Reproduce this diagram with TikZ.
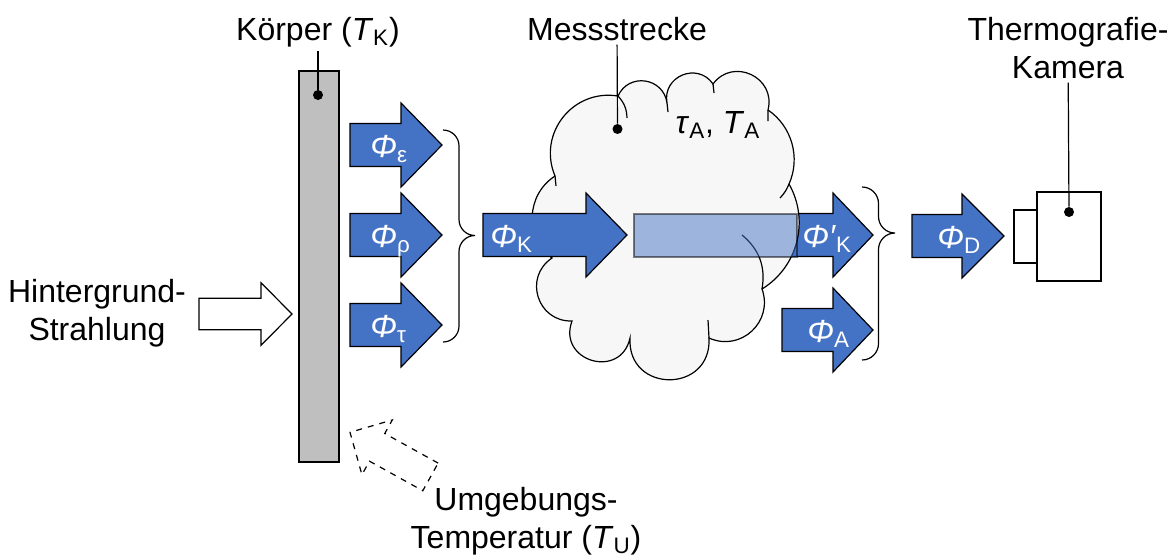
\documentclass[tikz,border=0pt]{standalone}
\usepackage{fontspec}
\setmainfont{Liberation Sans}

\definecolor{fluxblue}{HTML}{4472C4}
\definecolor{bodygray}{HTML}{BFBFBF}
\definecolor{cloudgray}{HTML}{F7F7F7}

\newcommand{\flux}[1]{\textit{Φ}\textsubscript{#1}}
% block arrow: [style]{tail x}{axis y}{head x}{tip x}{half shaft}{half head}
\newcommand{\blockarrow}[7][]{%
  \draw[#1] (#2,#3-#6) -- (#4,#3-#6) -- (#4,#3-#7) -- (#5,#3)
    -- (#4,#3+#7) -- (#4,#3+#6) -- (#2,#3+#6) -- cycle;}
% curly bracket: [style]{x}{top y}{tip y}{bottom y}{curl}
\newcommand{\curlybrace}[6][]{%
  \draw[#1] (#2,#3) to[out=0,in=90] (#2+#6,#3+#6) -- (#2+#6,#4-#6)
    to[out=270,in=180] (#2+2*#6,#4) to[out=180,in=90] (#2+#6,#4+#6)
    -- (#2+#6,#5-#6) to[out=270,in=0] (#2,#5);}

\tikzset{
  flux/.style={draw=black, fill=fluxblue, line width=0.6pt},
  hollow/.style={draw=black, fill=white, line width=0.6pt},
  wolke/.style={draw=black, fill=cloudgray, line width=0.6pt},
  label/.style={inner sep=2pt, anchor=base},
  fluxlabel/.style={text=white, inner sep=0pt, anchor=base west},
  dot/.style={circle, fill=black, inner sep=0pt, minimum size=5pt},
  lead/.style={line width=0.6pt},
}

\begin{document}
\begin{tikzpicture}[x=0.5pt, y=-0.5pt,
    every node/.style={font=\fontsize{16}{19}\selectfont}]
  \useasboundingbox (0,0) rectangle (1176,554);

  % body
  \node (koerper) [draw, fill=bodygray, line width=0.6pt,
    minimum width=20pt, minimum height=195.5pt] at (319,266.5) {};
  \node (koerperlabel) [label] at (318,40) {Körper (\textit{T}\textsubscript{K})};
  \node (kdot) [dot] at (318,95) {};
  \draw[lead] (koerperlabel) -- (kdot);

  % background radiation (base = last line)
  \node (hintergrund) [label, align=center] at (97,340) {Hintergrund-\\Strahlung};
  \blockarrow[hollow]{199}{314}{261}{292}{15.8}{31.3}

  % surroundings
  \blockarrow[hollow, dashed, rotate around={-29:(350,432.3)}]{442}{432.3}{381}{350}{15.8}{31.3}
  \node (umgebung) [label, align=center] at (526,548) {Umgebungs-\\Temperatur (\textit{T}\textsubscript{U})};

  % flux leaving the body
  \blockarrow[flux]{350}{145}{401}{442}{21.5}{42}
  \blockarrow[flux]{350}{235}{401}{442}{21.5}{42}
  \blockarrow[flux]{350}{325}{401}{442}{21.5}{42}
  \node (eps) [fluxlabel] at (370,157) {\flux{ε}};
  \node (rho) [fluxlabel] at (370,247) {\flux{ρ}};
  \node (tau) [fluxlabel] at (370,337) {\flux{τ}};
  \curlybrace[lead]{443}{130}{235.5}{342}{16}

  % measuring path
  \blockarrow[flux]{760}{235}{833}{873}{21.5}{42}
  \draw[wolke] (555,176) to[bend left=61, looseness=1.15] (618,96)
    to[bend left=74, looseness=1.34] (667,103)
    to[bend left=78, looseness=1.40] (713,84)
    to[bend left=79, looseness=1.42] (768,110)
    to[bend left=40, looseness=0.96] (789,184)
    to[bend left=44, looseness=0.99] (762,289)
    to[bend left=67, looseness=1.23] (709,338)
    to[bend left=93, looseness=1.81] (630,338)
    to[bend left=94, looseness=1.82] (572,321)
    to[bend left=74, looseness=1.34] (552,258)
    to[bend left=55, looseness=1.08] (555,176) -- cycle;
  % inner curls of the puffs
  \draw[lead] (555,176) -- (556,186)
    (618,96) to[bend left=20] (627,118)
    (667,103) -- (668,112)
    (713,84) -- (714,93)
    (768,110) -- (768,121)
    (789,184) to[bend left=10] (780,198)
    (742,235) to[bend left=30] (762,289)
    (709,338) -- (708,320);
  \node (kanal) [draw=black, fill=fluxblue, opacity=0.5, line width=0.6pt,
    minimum width=81.5pt, minimum height=21.5pt] at (715.5,235.5) {};
  \blockarrow[flux]{483}{235}{586}{627}{21.5}{42}
  \node (fk) [fluxlabel] at (490,247) {\flux{K}};
  \node (streckelabel) [label] at (617,40) {Messstrecke};
  \node (sdot) [dot] at (617.5,129) {};
  \draw[lead] (streckelabel) -- (sdot);
  \node (luft) [label] at (718,133) {\textit{τ}\textsubscript{A}, \textit{T}\textsubscript{A}};

  % flux at the camera
  \blockarrow[flux]{782}{330}{833}{873}{21.5}{42}
  \node (fks) [fluxlabel] at (802,247) {\textit{Φ′}\textsubscript{K}};
  \node (fa) [fluxlabel] at (807,342) {\flux{A}};
  \curlybrace[lead]{862}{187}{233}{360}{16.5}
  \blockarrow[flux]{912}{236}{962}{1004}{21.5}{42}
  \node (fd) [fluxlabel] at (937,248) {\flux{D}};

  % camera
  \node (objektiv) [draw, line width=0.6pt, minimum width=11.5pt,
    minimum height=26.5pt] at (1025.5,236.5) {};
  \node (kamera) [draw, line width=0.6pt, minimum width=32pt,
    minimum height=44.5pt] at (1069,236.5) {};
  \node (kameralabel) [label, align=center] at (1068,78) {Thermografie-\\Kamera};
  \node (cdot) [dot] at (1069,212) {};
  \draw[lead] (kameralabel) -- (cdot);
\end{tikzpicture}
\end{document}
